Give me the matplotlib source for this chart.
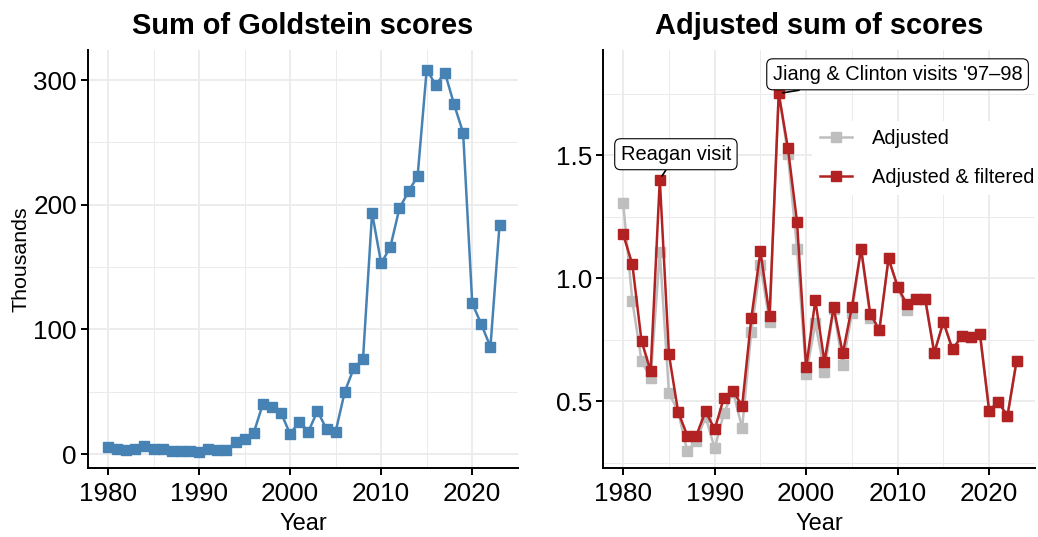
import numpy as np
import matplotlib.pyplot as plt
from matplotlib.ticker import MultipleLocator, FormatStrFormatter

plt.rcParams['font.family'] = ['Liberation Sans', 'DejaVu Sans']

years = np.arange(1980, 2024)

# sum of Goldstein scores, thousands
goldstein = [5.6, 4.0, 3.2, 4.0, 6.4, 4.0, 4.0, 2.4, 2.4, 2.4,
             1.6, 4.0, 3.0, 3.0, 9.6, 12.0, 17.0, 40.0, 38.0, 33.0,
             16.0, 26.0, 18.0, 34.5, 20.0, 18.0, 50.0, 69.0, 76.0, 193.5,
             153.0, 166.0, 197.0, 210.7, 223.0, 308.5, 296.0, 306.0, 280.7, 257.7,
             121.0, 104.0, 86.0, 184.0]

adjusted = [1.304, 0.907, 0.664, 0.592, 1.107, 0.534, 0.457, 0.297, 0.337, 0.436,
            0.308, 0.450, 0.538, 0.391, 0.782, 1.053, 0.822, 1.755, 1.504, 1.120,
            0.610, 0.816, 0.620, 0.875, 0.646, 0.859, 1.120, 0.839, 0.789, 1.080,
            0.965, 0.870, 0.917, 0.917, 0.696, 0.822, 0.710, 0.764, 0.759, 0.772,
            0.461, 0.497, 0.439, 0.664]

filtered = [1.178, 1.056, 0.745, 0.622, 1.401, 0.690, 0.457, 0.360, 0.360, 0.459,
            0.385, 0.513, 0.542, 0.480, 0.836, 1.110, 0.847, 1.751, 1.530, 1.229,
            0.637, 0.910, 0.660, 0.881, 0.694, 0.883, 1.120, 0.856, 0.789, 1.080,
            0.965, 0.894, 0.917, 0.917, 0.696, 0.822, 0.710, 0.764, 0.759, 0.772,
            0.461, 0.497, 0.439, 0.664]

events = [("Reagan visit", 1984, 1.401, 1985.76, 1.504),
          ("Jiang & Clinton visits '97\u201398", 1997, 1.751, 2009.99, 1.829)]

BLUE = '#4682B4'
RED = '#B22222'
GREY = '#BEBEBE'
GRID = '#EBEBEB'

fig = plt.figure(figsize=(10.38, 5.37), dpi=100)
ax1 = fig.add_axes([0.0848, 0.1285, 0.414, 0.778])
ax2 = fig.add_axes([0.581, 0.1285, 0.416, 0.778])


def style(ax):
    for s in ['top', 'right']:
        ax.spines[s].set_visible(False)
    for s in ['left', 'bottom']:
        ax.spines[s].set_linewidth(1.4)
        ax.spines[s].set_color('black')
    ax.tick_params(which='major', length=5, width=1.4, labelsize=18.8, colors='black', pad=3)
    ax.tick_params(axis='x', which='major', pad=5)
    ax.tick_params(which='minor', length=0)
    ax.xaxis.set_major_locator(MultipleLocator(10))
    ax.xaxis.set_minor_locator(MultipleLocator(5))
    ax.grid(which='major', color=GRID, lw=1.3, zorder=0)
    ax.grid(which='minor', color=GRID, lw=0.7, zorder=0)
    ax.set_axisbelow(True)
    ax.set_xlim(1977.8, 2025)
    ax.set_xlabel('Year', fontsize=17, labelpad=5)


style(ax1)
ax1.plot(years, goldstein, '-s', color=BLUE, lw=1.8, ms=7, zorder=3)
ax1.set_ylim(-11.2, 324)
ax1.yaxis.set_major_locator(MultipleLocator(100))
ax1.yaxis.set_minor_locator(MultipleLocator(50))
ax1.set_ylabel('Thousands', fontsize=15.4, labelpad=2)
ax1.set_title('Sum of Goldstein scores', fontsize=20.9, fontweight='bold', pad=12)

style(ax2)
ax2.plot(years, adjusted, '-s', color=GREY, lw=1.8, ms=7, zorder=3, label='Adjusted')
ax2.plot(years, filtered, '-s', color=RED, lw=1.8, ms=7, zorder=4, label='Adjusted & filtered')
ax2.set_ylim(0.228, 1.927)
ax2.yaxis.set_major_locator(MultipleLocator(0.5))
ax2.yaxis.set_minor_locator(MultipleLocator(0.25))
ax2.yaxis.set_major_formatter(FormatStrFormatter('%.1f'))
ax2.set_title('Adjusted sum of scores', fontsize=20.9, fontweight='bold', pad=12)

for label, x, y, tx, ty in events:
    ax2.annotate(label, xy=(x, y), xytext=(tx, ty), fontsize=14.4,
                 ha='center', va='center', zorder=6,
                 bbox=dict(boxstyle='round,pad=0.3,rounding_size=0.3', fc='white', ec='black', lw=0.8),
                 arrowprops=dict(arrowstyle='-', color='black', lw=1.2, shrinkA=0, shrinkB=3))

leg = ax2.legend(loc='upper left', bbox_to_anchor=(0.46, 0.855), fontsize=14.4,
                 frameon=True, handlelength=1.6, handletextpad=1.0, labelspacing=1.0, borderpad=0.4)
leg.get_frame().set_edgecolor('none')
leg.get_frame().set_facecolor('white')
leg.get_frame().set_alpha(1)

fig.savefig('out.png', dpi=100)
